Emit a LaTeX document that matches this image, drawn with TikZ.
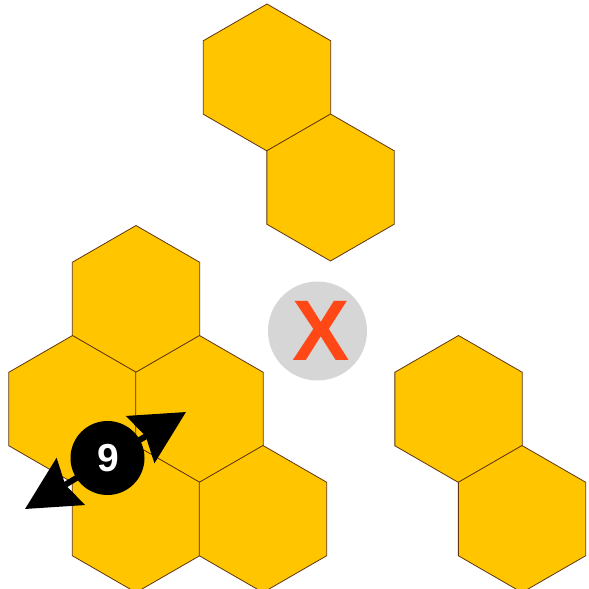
\documentclass[tikz,border=0pt]{standalone}
\usepackage{fontspec}
\setmainfont{Liberation Sans}
\usetikzlibrary{arrows.meta, positioning, calc, shapes.geometric}
\definecolor{honey}{RGB}{255,198,0}
\definecolor{comb}{RGB}{96,52,14}
\definecolor{badgegray}{RGB}{214,214,214}
\definecolor{crossred}{RGB}{255,72,22}
\tikzset{
  hexcell/.style={regular polygon, regular polygon sides=6, shape border rotate=30, minimum size=147pt, inner sep=0pt, outer sep=0pt, draw=comb, fill=honey, line width=0.8pt},
  badge/.style={circle, fill=black, minimum size=74pt, inner sep=0pt, text=white, font=\fontsize{39}{39}\selectfont\bfseries},
  nogo/.style={circle, fill=badgegray, minimum size=99pt, inner sep=0pt, text=crossred, font=\fontsize{86}{86}\selectfont\bfseries},
  swap/.style={{Stealth[length=53pt, width=54pt, inset=6pt]}-{Stealth[length=53pt, width=54pt, inset=6pt]}, line width=6pt, black}
}

\begin{document}
\begin{tikzpicture}[x=1pt, y=-1pt]
    \useasboundingbox (0,0) rectangle (589,589);

    % top pair
    \node[hexcell] (tA) at (267,77.5) {};
    \node[hexcell] (tB) at ($(tA)+(63.5,110)$) {};

    % left cluster
    \node[hexcell] (lTop) at (136,299) {};
    \node[hexcell] (lMidL) at ($(lTop)+(-63.5,110)$) {};
    \node[hexcell] (lMidR) at ($(lTop)+(63.5,110)$) {};
    \node[hexcell] (lBotL) at ($(lTop)+(0,220)$) {};
    \node[hexcell] (lBotR) at ($(lTop)+(127,220)$) {};

    % right pair
    \node[hexcell] (rA) at (458.5,409) {};
    \node[hexcell] (rB) at ($(rA)+(63.5,110)$) {};

    \node[nogo] (cross) at (317.5,331) {\kern8pt X};

    % swap arrow with badge
    \coordinate (swEnd) at (25,509);
    \coordinate (neEnd) at (186,412);
    \draw[swap] (swEnd) -- (neEnd);
    \node[badge] (count) at (107.5,458) {\kern1pt 9};
\end{tikzpicture}
\end{document}
